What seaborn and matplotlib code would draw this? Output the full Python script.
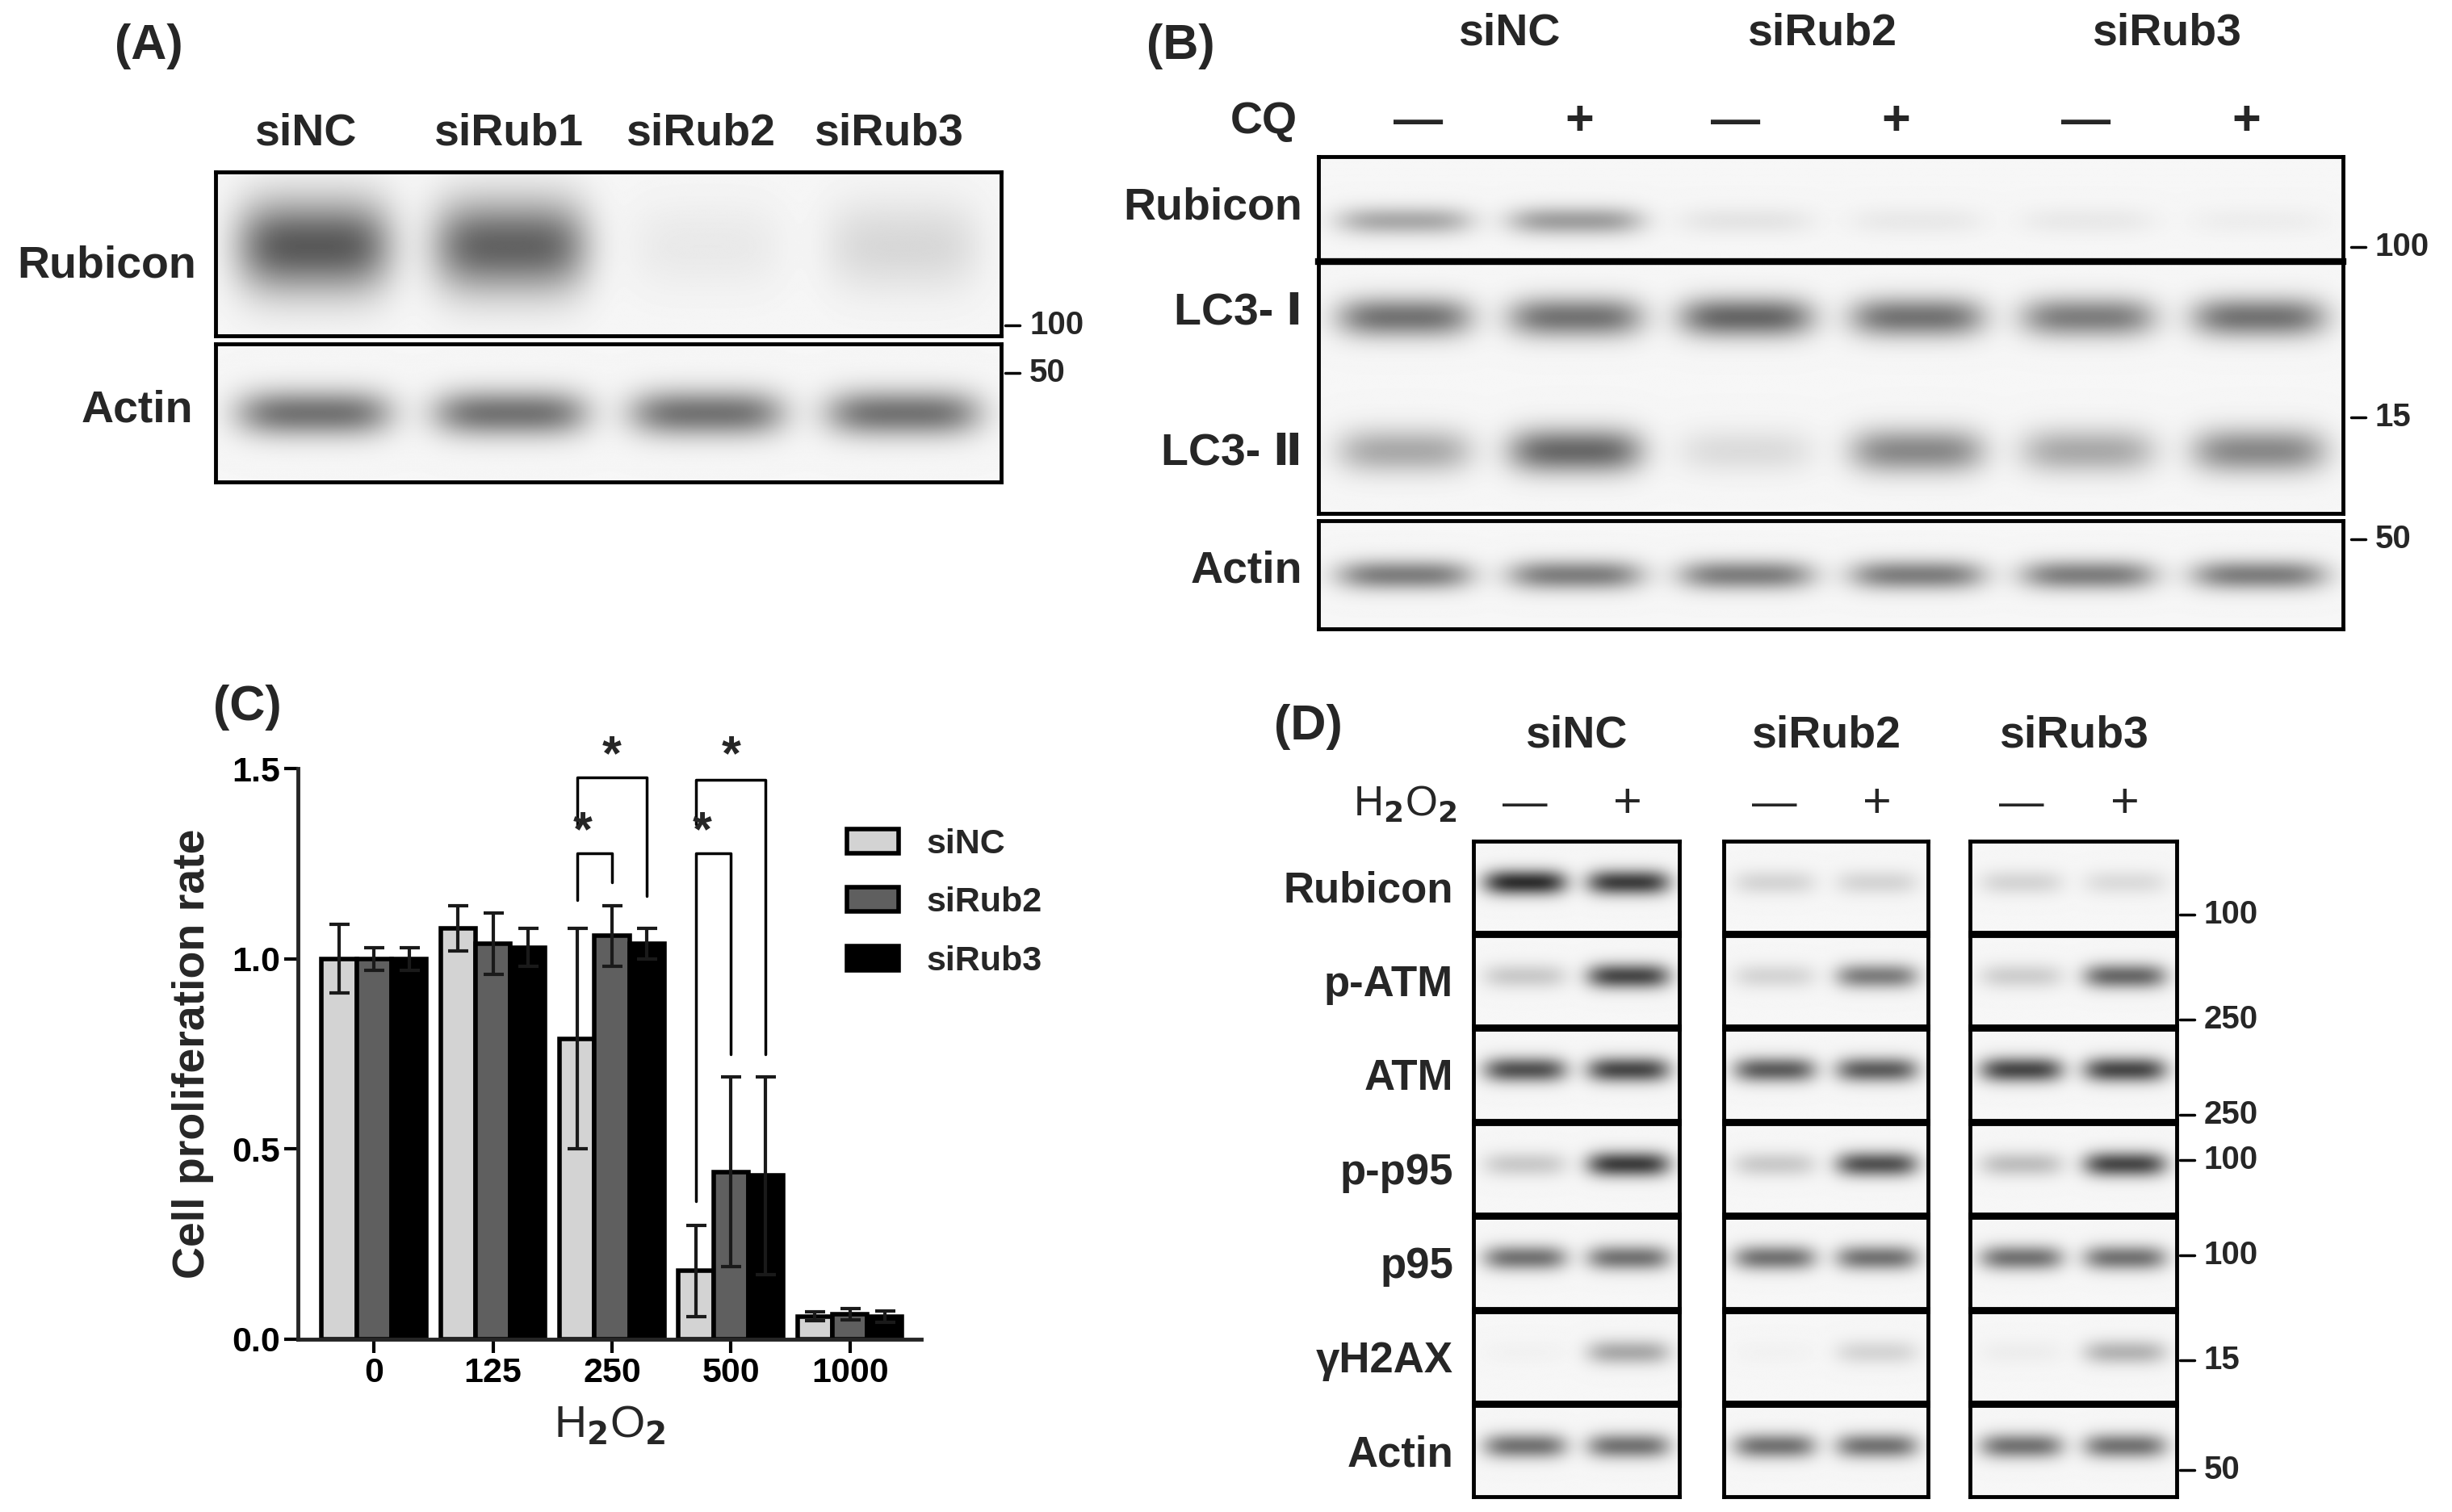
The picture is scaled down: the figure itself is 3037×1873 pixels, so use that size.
import numpy as np
import pandas as pd
import matplotlib
matplotlib.use("Agg")
import matplotlib.pyplot as plt
import matplotlib.patches as mpatches
import seaborn as sns

# ---------------- data ----------------
doses = ["0", "125", "250", "500", "1000"]
groups = ["siNC", "siRub2", "siRub3"]
siNC_mean = [1.00, 1.08, 0.79, 0.18, 0.06]
siNC_err = [0.09, 0.06, 0.29, 0.12, 0.012]
siRub2_mean = [1.00, 1.04, 1.06, 0.44, 0.065]
siRub2_err = [0.03, 0.08, 0.08, 0.25, 0.015]
siRub3_mean = [1.00, 1.03, 1.04, 0.43, 0.06]
siRub3_err = [0.03, 0.05, 0.04, 0.26, 0.015]
bar_colors = ["#d3d3d3", "#5f5f5f", "#000000"]

# blot band intensities (0..1)
A_lanes = ["siNC", "siRub1", "siRub2", "siRub3"]
A_rubicon = [0.72, 0.68, 0.06, 0.14]
A_actin = [0.6, 0.6, 0.6, 0.6]
B_rubicon = [0.35, 0.4, 0.08, 0.06, 0.06, 0.04]
B_lc3i = [0.6, 0.6, 0.66, 0.6, 0.55, 0.6]
B_lc3ii = [0.35, 0.65, 0.12, 0.5, 0.35, 0.5]
B_actin = [0.55, 0.55, 0.55, 0.55, 0.55, 0.55]
D_rows = ["Rubicon", "p-ATM", "ATM", "p-p95", "p95", "γH2AX", "Actin"]
D_bands = {
    "Rubicon": [[0.92, 0.85], [0.15, 0.15], [0.15, 0.12]],
    "p-ATM": [[0.2, 0.8], [0.15, 0.55], [0.18, 0.65]],
    "ATM": [[0.75, 0.8], [0.7, 0.7], [0.8, 0.8]],
    "p-p95": [[0.2, 0.85], [0.2, 0.75], [0.25, 0.8]],
    "p95": [[0.6, 0.6], [0.6, 0.6], [0.6, 0.6]],
    "γH2AX": [[0.02, 0.35], [0.02, 0.15], [0.04, 0.3]],
    "Actin": [[0.6, 0.6], [0.6, 0.6], [0.6, 0.6]],
}
D_mw = ["100", "250", "250", "100", "100", "15", "50"]

sns.set_theme(style="ticks")
plt.rcParams["font.family"] = ["Liberation Sans", "DejaVu Sans", "Noto Sans CJK SC"]
plt.rcParams["font.weight"] = "bold"

W, H = 3037, 1873
fig = plt.figure(figsize=(W / 100, H / 100), dpi=100)
LBL = 40
TTL = 44
MWS = 29


def ax_px(x0, y0, x1, y1):
    return fig.add_axes([x0 / W, 1 - y1 / H, (x1 - x0) / W, (y1 - y0) / H])


def txt(x, y, s, size=LBL, ha="center", va="center", weight="bold", **kw):
    fig.text(x / W, 1 - y / H, s, fontsize=size, ha=ha, va=va, weight=weight, **kw)


def blot_img(ax, img):
    ax.imshow(np.clip(img, 0, 1), cmap="gray", vmin=0, vmax=1, aspect="auto",
              extent=[0, 1, 0, 1], interpolation="bilinear")
    ax.set_xticks([]); ax.set_yticks([])
    for s in ax.spines.values():
        s.set_linewidth(3.5); s.set_color("black")


def bands(layers, n, fill=0.78, h=200, w=600):
    yy, xx = np.mgrid[0:h, 0:w]
    xf, yf = xx / w, yy / h
    img = np.full((h, w), 0.965)
    for intens, yc, bh in layers:
        for i, v in enumerate(intens):
            c = (i + 0.5) / n
            hw = fill / (2 * n)
            px = np.exp(-((np.abs(xf - c) / hw) ** 4))
            py = np.exp(-(((yf - yc) / bh) ** 2))
            img -= 0.85 * v * px * py
    return img


def blot(x0, y0, x1, y1, intens, yc=0.5, bh=0.16, fill=0.78):
    ax = ax_px(x0, y0, x1, y1)
    blot_img(ax, bands([(intens, yc, bh)], len(intens), fill))
    return ax


def mw(x, y, s, size=MWS):
    fig.add_artist(plt.Line2D([x / W, (x + 18) / W], [1 - y / H, 1 - y / H],
                              color="black", lw=2.5))
    txt(x + 30, y, s, size=size, ha="left")


# ---------------- Panel A ----------------
txt(184, 58, "(A)", size=TTL)
for x, s in zip([378, 630, 868, 1100], A_lanes):
    txt(x, 165, s)
blot(267, 213, 1240, 416, A_rubicon, yc=0.45, bh=0.28)
blot(267, 426, 1240, 597, A_actin, yc=0.5, bh=0.17)
txt(132, 329, "Rubicon")
txt(170, 509, "Actin")
mw(1245, 403, "100")
mw(1245, 462, "50")

# ---------------- Panel B ----------------
txt(1462, 58, "(B)", size=TTL)
for x, s in zip([1869, 2257, 2683], groups):
    txt(x, 42, s)
txt(1565, 151, "CQ")
for i, x in enumerate([1757, 1956, 2150, 2348, 2584, 2782]):
    txt(x, 151, "—" if i % 2 == 0 else "+", size=44)
blot(1633, 194, 2902, 322, B_rubicon, yc=0.62, bh=0.14)
ax_lc3 = ax_px(1633, 324, 2902, 636)
blot_img(ax_lc3, bands([(B_lc3i, 0.22, 0.08), (B_lc3ii, 0.75, 0.09)], 6, h=300))
ax_lc3.spines["top"].set_linewidth(6)
blot(1633, 645, 2902, 779, B_actin, yc=0.5, bh=0.14)
txt(1613, 258, "Rubicon", ha="right")
txt(1613, 387, "LC3- Ⅰ", ha="right")
txt(1613, 562, "LC3- Ⅱ", ha="right")
txt(1613, 707, "Actin", ha="right")
mw(2912, 306, "100")
mw(2912, 517, "15")
mw(2912, 668, "50")

# ---------------- Panel C ----------------
txt(306, 877, "(C)", size=TTL)
df = pd.DataFrame({
    "dose": doses * 3,
    "group": [g for g in groups for _ in doses],
    "value": siNC_mean + siRub2_mean + siRub3_mean,
})
errs = [siNC_err, siRub2_err, siRub3_err]
means = [siNC_mean, siRub2_mean, siRub3_mean]
axc = ax_px(369, 952, 1141, 1659)
sns.barplot(data=df, x="dose", y="value", hue="group", order=doses,
            hue_order=groups, palette=bar_colors, edgecolor="black",
            linewidth=4, errorbar=None, width=0.88, ax=axc, saturation=1,
            legend=False)
bar_conts = list(axc.containers)
centers = []
for k, cont in enumerate(bar_conts):
    xs = [p.get_x() + p.get_width() / 2 for p in cont.patches]
    centers.append(xs)
    axc.errorbar(xs, means[k], yerr=errs[k], fmt="none", ecolor="#1a1a1a",
                 elinewidth=3, capsize=9, capthick=3, zorder=5)
axc.set_ylim(0, 1.5)
axc.set_xlim(-0.64, 4.6)
axc.set_yticks([0, 0.5, 1.0, 1.5])
axc.set_yticklabels(["0.0", "0.5", "1.0", "1.5"])
sns.despine(ax=axc)
axc.spines["left"].set_linewidth(3.5)
axc.spines["bottom"].set_linewidth(3.5)
axc.tick_params(width=3, length=12, labelsize=31, colors="black")
for lab in axc.get_xticklabels() + axc.get_yticklabels():
    lab.set_fontweight("bold")
axc.set_xlabel("H$_2$O$_2$", fontsize=40, weight="normal", labelpad=14)
axc.set_ylabel("Cell proliferation rate", fontsize=40, weight="bold", labelpad=16)
axc.legend(handles=[
    mpatches.Patch(facecolor=c, edgecolor="black", linewidth=4, label=g)
    for c, g in zip(bar_colors, groups)],
    loc="upper left", bbox_to_anchor=(0.83, 0.95), frameon=False,
    handlelength=1.5, handleheight=0.7, labelspacing=0.75,
    prop={"weight": "bold", "size": 31})


def bracket(x1, x2, top, l1, l2, star_y, sx):
    axc.plot([x1, x1, x2, x2], [l1, top, top, l2], color="black", lw=2.5, clip_on=False)
    axc.text(sx, star_y, "*", ha="center", va="center", fontsize=44, weight="bold",
             clip_on=False)


c0, c1, c2 = centers[0], centers[1], centers[2]
bracket(c0[2], c1[2], 1.277, 1.155, 1.20, 1.33, c0[2] + 0.05)
bracket(c0[2], c2[2], 1.476, 1.35, 1.164, 1.53, (c0[2] + c2[2]) / 2)
bracket(c0[3], c1[3], 1.277, 0.363, 0.749, 1.33, c0[3] + 0.05)
bracket(c0[3], c2[3], 1.47, 1.354, 0.749, 1.53, (c0[3] + c2[3]) / 2)

# ---------------- Panel D ----------------
txt(1620, 900, "(D)", size=TTL)
gx = [(1825, 2080), (2135, 2388), (2440, 2696)]
for (a, b), s in zip(gx, groups):
    txt((a + b) / 2, 912, s)
txt(1740, 997, "H$_2$O$_2$", size=37, weight="normal")
for (a, b) in gx:
    q = (b - a) / 4
    txt(a + q, 997, "—", size=40, weight="normal")
    txt(b - q, 997, "+", size=44, weight="normal")
row_top = 1040
rh = 116.5
for r, name in enumerate(D_rows):
    y0 = row_top + r * rh
    for g, (a, b) in enumerate(gx):
        blot(a, y0 + 2, b, y0 + rh - 2, D_bands[name][g], yc=0.45, bh=0.14, fill=0.8)
    txt(1800, y0 + rh / 2 + 5, name, size=38, ha="right")
mw_y = [1133, 1263, 1381, 1437, 1555, 1685, 1821]
for y, s in zip(mw_y, D_mw):
    mw(2700, y, s)

fig.savefig("out.png", dpi=100)
